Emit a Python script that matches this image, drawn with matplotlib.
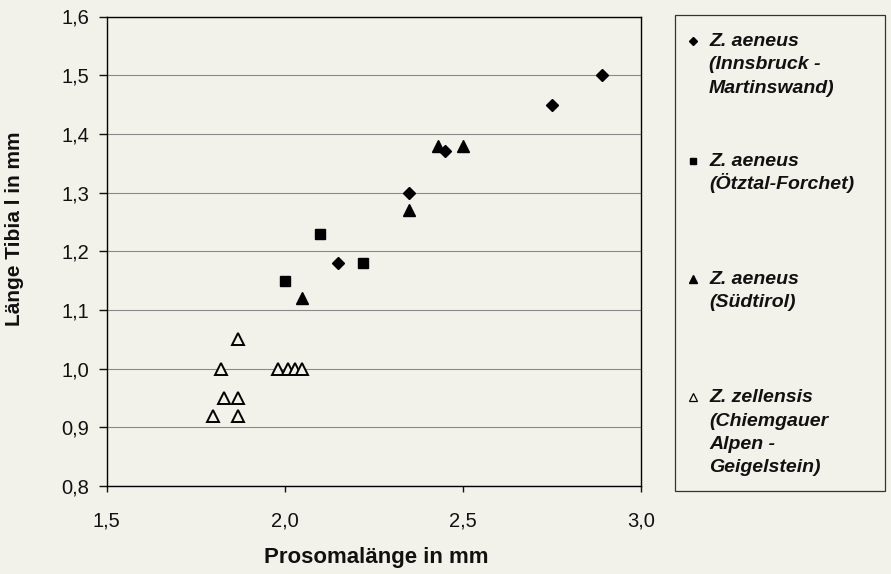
import matplotlib
matplotlib.use("Agg")
import matplotlib.pyplot as plt
from matplotlib.lines import Line2D
from matplotlib.patches import Rectangle

plt.rcParams['font.family'] = ['Liberation Sans', 'DejaVu Sans']

# Data
innsbruck_x = [2.89, 2.75, 2.45, 2.35, 2.15]
innsbruck_y = [1.50, 1.45, 1.37, 1.30, 1.18]
oetztal_x = [2.10, 2.22, 2.00]
oetztal_y = [1.23, 1.18, 1.15]
suedtirol_x = [2.43, 2.50, 2.35, 2.05]
suedtirol_y = [1.38, 1.38, 1.27, 1.12]
zellensis_x = [1.87, 1.82, 1.98, 2.01, 2.03, 2.05, 1.83, 1.87, 1.80, 1.87]
zellensis_y = [1.05, 1.00, 1.00, 1.00, 1.00, 1.00, 0.95, 0.95, 0.92, 0.92]

legend_labels = [
    "Z. aeneus\n(Innsbruck -\nMartinswand)",
    "Z. aeneus\n(Ötztal-Forchet)",
    "Z. aeneus\n(Südtirol)",
    "Z. zellensis\n(Chiemgauer\nAlpen -\nGeigelstein)",
]
x_ticks = [1.5, 2.0, 2.5, 3.0]
x_ticklabels = ["1,5", "2,0", "2,5", "3,0"]
y_ticks = [0.8, 0.9, 1.0, 1.1, 1.2, 1.3, 1.4, 1.5, 1.6]
y_ticklabels = ["0,8", "0,9", "1,0", "1,1", "1,2", "1,3", "1,4", "1,5", "1,6"]

bg = "#f2f2ea"
W, H = 891, 574
fig = plt.figure(figsize=(W / 100, H / 100), dpi=100, facecolor=bg)
ax_l, ax_r, ax_t, ax_b = 106.5, 641, 16.5, 486
ax = fig.add_axes([ax_l / W, 1 - ax_b / H, (ax_r - ax_l) / W, (ax_b - ax_t) / H], facecolor=bg)

ax.plot(innsbruck_x, innsbruck_y, linestyle="none", marker="D", ms=6.2, color="black", zorder=3)
ax.plot(oetztal_x, oetztal_y, linestyle="none", marker="s", ms=7.4, color="black", zorder=3)
ax.plot(suedtirol_x, suedtirol_y, linestyle="none", marker="^", ms=8.4, color="black", zorder=3)
ax.plot(zellensis_x, zellensis_y, linestyle="none", marker="^", ms=8.0, mfc=bg, mec="black",
        mew=1.4, zorder=3)

ax.set_xlim(1.5, 3.0)
ax.set_ylim(0.8, 1.6)
ax.set_xticks(x_ticks)
ax.set_xticklabels(x_ticklabels, fontsize=14.5)
ax.set_yticks(y_ticks)
ax.set_yticklabels(y_ticklabels, fontsize=14.5)
ax.yaxis.grid(True, color="#8a8a8a", linewidth=0.8)
ax.set_axisbelow(True)
for s in ax.spines.values():
    s.set_color("black")
    s.set_linewidth(1.0)
ax.tick_params(axis="both", direction="out", width=1, colors="#111111")
ax.tick_params(axis="y", length=6, pad=6.5)
ax.tick_params(axis="x", length=4.5, pad=14)

fig.text(376 / W, 1 - 558 / H, "Prosomalänge in mm", fontsize=16, fontweight="bold",
         ha="center", va="center", color="#111111")
fig.text(15 / W, 1 - 229 / H, "Länge Tibia l in mm", fontsize=15, fontweight="bold",
         ha="center", va="center", rotation=90, color="#111111")

# Legend box (manual)
lx0, lx1, ly0, ly1 = 675, 885, 15, 491
fig.patches.append(Rectangle((lx0 / W, 1 - ly1 / H), (lx1 - lx0) / W, (ly1 - ly0) / H,
                             transform=fig.transFigure, facecolor=bg, edgecolor="#333333",
                             linewidth=0.9))
entry_centers = [40.5, 160.5, 278.5, 397]
pitch = 23.3
markers = [dict(marker="D", ms=3.6, color="black"),
           dict(marker="s", ms=4.8, color="black"),
           dict(marker="^", ms=5.2, color="black"),
           dict(marker="^", ms=5.2, mfc=bg, mec="black", mew=0.9)]
for yc, lab, mk in zip(entry_centers, legend_labels, markers):
    fig.add_artist(Line2D([693 / W], [1 - yc / H], transform=fig.transFigure,
                          linestyle="none", **mk))
    for i, line in enumerate(lab.split("\n")):
        fig.text(709 / W, 1 - (yc + i * pitch + 5.5) / H, line, fontsize=14, fontweight="bold",
                 fontstyle="italic", va="baseline", ha="left", color="#111111")

fig.savefig("out.png", dpi=100, facecolor=bg)
